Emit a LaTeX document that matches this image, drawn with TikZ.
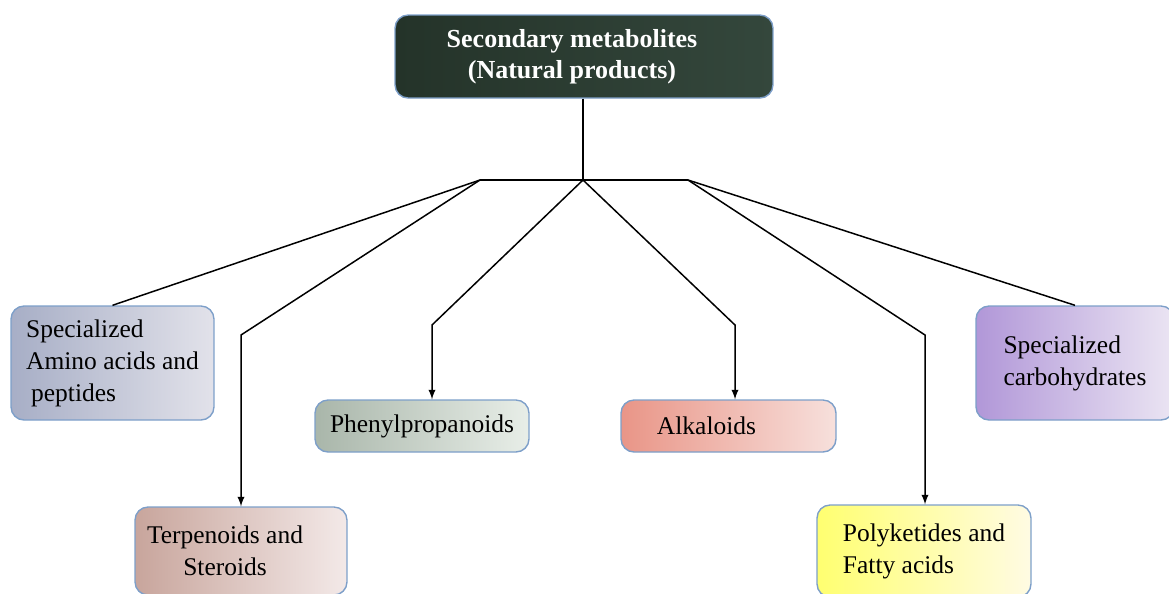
\documentclass[tikz,border=0pt]{standalone}
\usepackage{fontspec}
\setmainfont{Liberation Serif}
\usetikzlibrary{arrows.meta}

\definecolor{boxline}{HTML}{7D9FC9}
\definecolor{marble}{HTML}{243329}
\definecolor{marblelight}{HTML}{34473C}
\definecolor{aminoL}{RGB}{167,174,198}
\definecolor{aminoR}{RGB}{226,226,234}
\definecolor{terpL}{RGB}{200,165,156}
\definecolor{terpR}{RGB}{243,233,232}
\definecolor{phenylL}{RGB}{169,182,170}
\definecolor{phenylR}{RGB}{232,238,232}
\definecolor{alkL}{RGB}{233,149,135}
\definecolor{alkR}{RGB}{247,224,220}
\definecolor{polyL}{RGB}{255,255,112}
\definecolor{polyR}{RGB}{255,251,227}
\definecolor{carbL}{RGB}{177,151,216}
\definecolor{carbR}{RGB}{235,229,243}

\begin{document}
\begin{tikzpicture}
[x=0.02cm,y=-0.02cm,>=latex,
 catbox/.style={draw=boxline,line width=0.8pt,rounded corners=0.26cm,align=left,
   font=\fontsize{14.5pt}{18.2pt}\selectfont,inner sep=0pt},
 link/.style={line width=0.85pt}]

% the frame of the picture
\useasboundingbox (0,0) rectangle (1169,593);
\clip (0,0) rectangle (1169,593);

% the top box
\node (top) at (584,56.5)[catbox,left color=marble,right color=marblelight,
  text=white,align=center,font=\bfseries\fontsize{14.8pt}{17.6pt}\selectfont,
  minimum width=7.56cm,minimum height=1.66cm]
  {Secondary metabolites\hspace*{0.48cm}\\(Natural products)\hspace*{0.48cm}};

% the classes
\node (amino) at (112.5,363)[catbox,left color=aminoL,right color=aminoR,
  minimum width=4.06cm,minimum height=2.28cm]
  {Specialized\\Amino acids and\\\hspace*{0.1cm}peptides};
\node (terp) at (241,551)[catbox,left color=terpL,right color=terpR,align=center,
  minimum width=4.24cm,minimum height=1.76cm]
  {Terpenoids and\hspace*{0.64cm}\\Steroids\hspace*{0.64cm}};
\node (phenyl) at (422,426)[catbox,left color=phenylL,right color=phenylR,
  minimum width=4.28cm,minimum height=1.04cm]
  {Phenylpropanoids};
\node (alk) at (728.5,426)[catbox,left color=alkL,right color=alkR,
  minimum width=4.3cm,minimum height=1.04cm]
  {Alkaloids\hspace*{0.88cm}};
\node (poly) at (924,551)[catbox,left color=polyL,right color=polyR,
  minimum width=4.28cm,minimum height=1.84cm]
  {Polyketides and\\Fatty acids};
\node (carb) at (1075,363)[catbox,left color=carbL,right color=carbR,
  minimum width=3.96cm,minimum height=2.28cm]
  {Specialized\\carbohydrates};

% the branching points
\coordinate (hub) at (583,180);
\coordinate (hubL) at (480,180);
\coordinate (hubR) at (688,180);
\coordinate (bT) at (241,335);
\coordinate (bP) at (432,325);
\coordinate (bA) at (735,325);
\coordinate (bK) at (925,335);

% the connectors
\draw[link] (top.south -| hub) -- (hub);
\draw[link] (hubL) -- (hubR);
\draw[link] (hubL) -- (amino.north);
\draw[link,->] (hubL) -- (bT) -- (terp.north);
\draw[link,->] (hub) -- (bP) -- (bP |- phenyl.north);
\draw[link,->] (hub) -- (bA) -- (bA |- alk.north);
\draw[link,->] (hubR) -- (bK) -- (bK |- poly.north);
\draw[link] (hubR) -- (carb.north);

\end{tikzpicture}
\end{document}
